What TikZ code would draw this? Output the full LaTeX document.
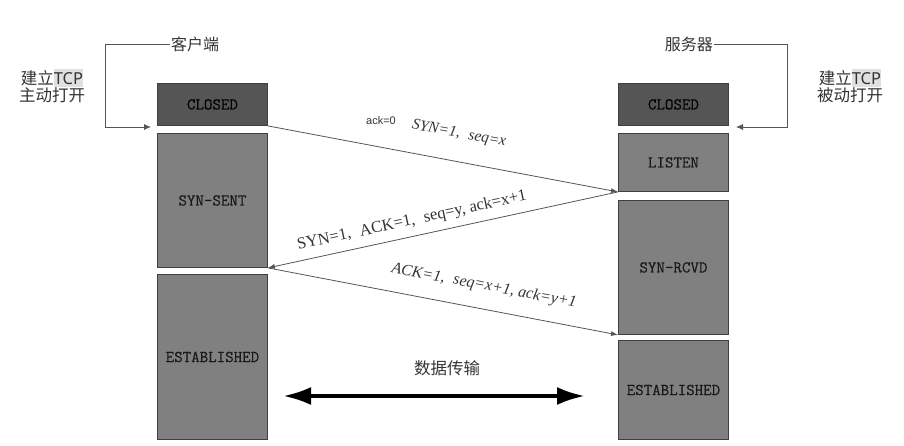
\documentclass[tikz,border=0pt]{standalone}
\usepackage{fontspec}
\setmainfont{Liberation Serif}
\setsansfont{Liberation Sans}
\newfontfamily\cjk{Noto Sans CJK SC}
\newfontfamily\boxfont{Latin Modern Mono}[FakeBold=0.4]
\usetikzlibrary{arrows.meta}
\definecolor{darkbox}{HTML}{555555}
\definecolor{midbox}{HTML}{808080}
\definecolor{boxline}{HTML}{3F3F3F}
\definecolor{txt}{HTML}{333333}
\definecolor{wire}{HTML}{555555}
\tikzset{
  state/.style={draw=boxline, line width=0.9pt, fill=midbox, anchor=north west,
    minimum width=110pt, inner sep=0pt, text=black!90,
    font=\boxfont\fontsize{16.5}{18}\selectfont},
  closedstate/.style={state, fill=darkbox, minimum height=42pt, text=black},
  cjklabel/.style={text=txt, font=\cjk\fontsize{16}{18}\selectfont, inner sep=1pt},
  msg/.style={draw=wire, line width=0.8pt, -{Latex[length=7pt,width=5pt]}},
  msglabel/.style={text=txt, font=\fontsize{15.5}{17}\selectfont, inner sep=0pt},
  bracket/.style={draw=wire, line width=0.8pt, -{Latex[length=7pt,width=6pt]}},
}
\newcommand{\fwc}{,\hspace{0.55em}}
\begin{document}
\begin{tikzpicture}[x=1pt,y=-1pt]
\useasboundingbox (0,0) rectangle (904,445);
% client column
\node[closedstate] (lclosed) at (157,83) {CLOSED};
\node[state, minimum height=134pt] (synsent) at (157,133) {SYN-SENT};
\node[state, minimum height=165pt] (lest) at (157,274) {ESTABLISHED};
% server column
\node[closedstate] (rclosed) at (618,83) {CLOSED};
\node[state, minimum height=58pt] (listen) at (618,133) {LISTEN};
\node[state, minimum height=134pt] (synrcvd) at (618,200) {SYN-RCVD};
\node[state, minimum height=99pt] (rest) at (618,340) {ESTABLISHED};
% top labels
\node[cjklabel, anchor=west] (client) at (170,44) {客户端};
\node[cjklabel, anchor=east] (server) at (714,44) {服务器};
\node[cjklabel, font=\cjk\fontsize{16.5}{18}\selectfont, align=center] (lopen) at (52,86) {建立\fontspec{Noto Sans}\colorbox{black!12}{\hspace{-3pt}TCP\hspace{-3pt}}\\[-1pt]主动打开};
\node[cjklabel, font=\cjk\fontsize{16.5}{18}\selectfont, align=center] (ropen) at (850,86) {建立\fontspec{Noto Sans}\colorbox{black!12}{\hspace{-3pt}TCP\hspace{-3pt}}\\[-1pt]被动打开};
\coordinate (lend) at (151,127);
\coordinate (rend) at (736,127);
\draw[bracket] (client.west) -| (105,127) -- (lend);
\draw[bracket] (server.east) -| (787,127) -- (rend);
% messages
\draw[msg] (lclosed.south east) -- (listen.south west);
\draw[msg] (listen.south west) -- (synsent.south east);
\draw[msg] (synsent.south east) -- (synrcvd.south west);
\node[text=txt, font=\sffamily\fontsize{11}{12}\selectfont, inner sep=0pt] (ack0) at (381,121) {ack=0};
\node[msglabel, rotate=-10.6, font=\itshape\fontsize{15.5}{17}\selectfont] (m1) at (459,134) {SYN=1\fwc seq=x};
\node[msglabel, rotate=12.2, font=\fontsize{16.5}{18}\selectfont] (m2) at (412,221) {SYN=1\fwc ACK=1\fwc seq=y, ack=x+1};
\node[msglabel, rotate=-10.8, font=\itshape\fontsize{16}{18}\selectfont] (m3) at (484,286) {ACK=1\fwc seq=x+1, ack=y+1};
% data transfer
\node[cjklabel, font=\cjk\fontsize{16.5}{18}\selectfont] (data) at (447,368) {数据传输};
\coordinate (dl) at (283,396);
\coordinate (dr) at (585,396);
\draw[line width=4pt, {Latex[length=28pt,width=18pt]}-{Latex[length=28pt,width=18pt]}] (dl) -- (dr);
\end{tikzpicture}
\end{document}
